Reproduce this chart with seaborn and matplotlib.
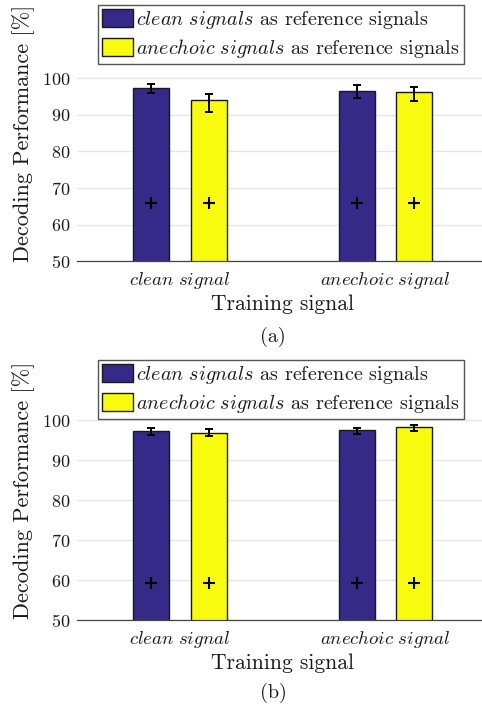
import numpy as np
import pandas as pd
import seaborn as sns
import matplotlib.pyplot as plt

# categories
training = ['clean signal', 'anechoic signal']
reference = ['clean signals', 'anechoic signals']
tick_labels = [r'$clean\ signal$', r'$anechoic\ signal$']
legend_labels = [r'$clean\ signals$ as reference signals',
                 r'$anechoic\ signals$ as reference signals']

# panel (a): mean performance and error bar ends, per reference signal
a_clean_ref = [97.3, 96.4]
a_clean_ref_lo = [96.0, 94.7]
a_clean_ref_hi = [98.4, 98.1]
a_anech_ref = [94.0, 96.2]
a_anech_ref_lo = [90.8, 93.7]
a_anech_ref_hi = [95.6, 97.6]
a_chance = 65.8

# panel (b)
b_clean_ref = [97.4, 97.5]
b_clean_ref_lo = [96.2, 96.5]
b_clean_ref_hi = [98.0, 98.0]
b_anech_ref = [96.9, 98.2]
b_anech_ref_lo = [96.0, 97.3]
b_anech_ref_hi = [97.7, 98.8]
b_chance = 59.4

palette = ['#352A87', '#F9FB0E']


def make_frame(means, los, his):
    rows = []
    for ref, m, lo, hi in zip(reference, means, los, his):
        for t, v, l, h in zip(training, m, lo, hi):
            rows.append({'training': t, 'reference': ref, 'perf': v, 'lo': l, 'hi': h})
    return pd.DataFrame(rows)


def panel(ax, data, chance, ymax):
    sns.barplot(data=data, x='training', y='perf', hue='reference',
                order=training, hue_order=reference, palette=palette,
                width=0.56, gap=0.375, errorbar=None, legend=False,
                edgecolor='#1a1a1a', linewidth=1.0, saturation=1, ax=ax)
    for cont, ref in zip(ax.containers, reference):
        sub = data[data.reference == ref].set_index('training').loc[training]
        xs = [b.get_x() + b.get_width() / 2 for b in cont]
        ax.errorbar(xs, sub.perf, yerr=[sub.perf - sub.lo, sub.hi - sub.perf],
                    fmt='none', ecolor='black', elinewidth=1.4, capsize=3, capthick=1.4, zorder=5)
        ax.plot(xs, [chance] * len(xs), linestyle='none', marker='+', color='black',
                markersize=9, markeredgewidth=1.5, zorder=5)
    ax.set_xlim(-0.5, 1.5)
    ax.set_ylim(50, ymax)
    ax.set_yticks([50, 60, 70, 80, 90, 100])
    ax.set_xticks([0, 1])
    ax.set_xticklabels(tick_labels, fontsize=13.5)
    ax.tick_params(axis='y', labelsize=13, length=3, color='#555555', direction='out', pad=2)
    ax.tick_params(axis='x', length=3, color='#777777', direction='in', pad=6)
    ax.grid(axis='y', color='#e6e6e6', linewidth=1)
    ax.grid(axis='x', visible=False)
    ax.set_axisbelow(True)
    for s in ['left', 'right', 'top']:
        ax.spines[s].set_visible(False)
    ax.spines['bottom'].set_color('#444444')
    ax.spines['bottom'].set_linewidth(0.9)
    ax.set_xlabel('Training signal', fontsize=15.5, labelpad=3)
    ax.set_ylabel('Decoding Performance [%]', fontsize=16, labelpad=5)
    leg = ax.legend(ax.containers, legend_labels, loc='upper right',
                    bbox_to_anchor=(0.94, 1.0), borderaxespad=0, fontsize=14.5,
                    fancybox=False, edgecolor='#555555', framealpha=1,
                    handlelength=1.55, handleheight=1.0, handletextpad=0.15,
                    labelspacing=0.3, borderpad=0.2)
    leg.get_frame().set_linewidth(1.0)


sns.set_theme(style='whitegrid')
plt.rcParams['font.family'] = 'serif'
plt.rcParams['font.serif'] = ['cmr10', 'DejaVu Serif']
plt.rcParams['mathtext.fontset'] = 'cm'
plt.rcParams['axes.formatter.use_mathtext'] = True
plt.rcParams['text.color'] = '#1a1a1a'
plt.rcParams['axes.labelcolor'] = '#1a1a1a'
plt.rcParams['xtick.color'] = '#1a1a1a'
plt.rcParams['ytick.color'] = '#1a1a1a'

fig = plt.figure(figsize=(4.82, 7.06), dpi=100)
ax_a = fig.add_axes([0.16, 0.630, 0.853, 0.363])
ax_b = fig.add_axes([0.16, 0.1214, 0.853, 0.3683])

panel(ax_a, make_frame([a_clean_ref, a_anech_ref], [a_clean_ref_lo, a_anech_ref_lo],
                       [a_clean_ref_hi, a_anech_ref_hi]), a_chance, 120)
panel(ax_b, make_frame([b_clean_ref, b_anech_ref], [b_clean_ref_lo, b_anech_ref_lo],
                       [b_clean_ref_hi, b_anech_ref_hi]), b_chance, 115)

fig.text(0.567, 0.523, '(a)', ha='center', va='center', fontsize=14.5)
fig.text(0.567, 0.018, '(b)', ha='center', va='center', fontsize=14.5)

fig.savefig('out.png', dpi=100)
